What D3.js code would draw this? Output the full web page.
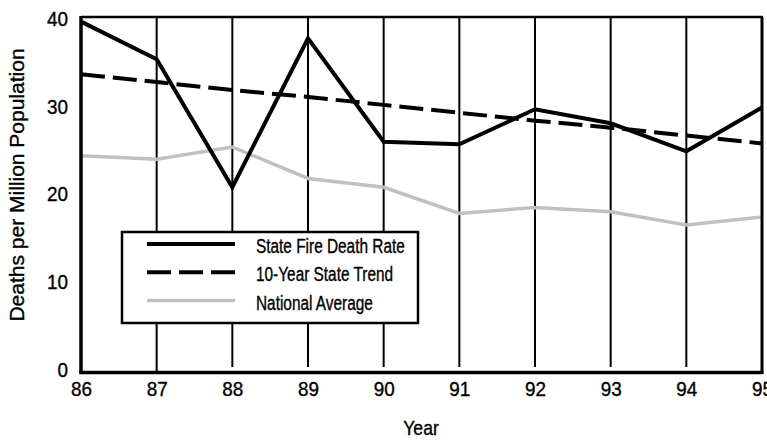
<!DOCTYPE html>
<html><head><meta charset="utf-8">
<script src="https://cdn.jsdelivr.net/npm/d3@7"></script>
<style>
html,body{margin:0;padding:0;background:#fff;}
text{font-family:"Liberation Sans",Arial,sans-serif;fill:#000;stroke:#000;stroke-width:0.35px;}
</style></head>
<body><svg id="c" width="767" height="442"></svg>
<script>
const years = ["86","87","88","89","90","91","92","93","94","95"];
const stateRate = [39.7,35.4,20.8,37.8,26.0,25.7,29.7,28.1,24.9,29.9];
const stateTrend = [33.7,32.8,31.9,31.1,30.2,29.3,28.4,27.6,26.7,25.8];
const nationalAvg = [24.4,24.0,25.4,21.8,20.8,17.8,18.5,18.0,16.5,17.4];
const yTicks = [0,10,20,30,40];
const legendLabels = ["State Fire Death Rate","10-Year State Trend","National Average"];

const svg = d3.select("#c");
const x = d3.scalePoint().domain(years).range([81,762]);
const y = d3.scaleLinear().domain([0,40]).range([369.5,19]);
const TOP = 17, BOT = 372.5;
const TX = 0.9; // horizontal condensing of tick labels

// vertical gridlines
svg.append("g").selectAll("line").data(years.slice(1,-1)).join("line")
  .attr("x1",d=>x(d)).attr("x2",d=>x(d))
  .attr("y1",TOP-1).attr("y2",(d,i)=> i===0 ? BOT : 367)
  .attr("stroke","#000").attr("stroke-width",2);

// lines
const line = d3.line().x((d,i)=>x(years[i])).y(d=>y(d));
svg.append("path").datum(nationalAvg).attr("d",line).attr("fill","none").attr("stroke","#c0c0c0").attr("stroke-width",3.5);
svg.append("path").datum(stateTrend).attr("d",line).attr("fill","none").attr("stroke","#000").attr("stroke-width",4).attr("stroke-dasharray","24,8");
svg.append("path").datum(stateRate).attr("d",line).attr("fill","none").attr("stroke","#000").attr("stroke-width",4).attr("stroke-linejoin","miter");

// frame
svg.append("line").attr("x1",81).attr("x2",763).attr("y1",TOP).attr("y2",TOP).attr("stroke","#000").attr("stroke-width",2.5);
svg.append("line").attr("x1",762).attr("x2",762).attr("y1",TOP).attr("y2",BOT).attr("stroke","#000").attr("stroke-width",3);
svg.append("line").attr("x1",81).attr("x2",81).attr("y1",TOP-1).attr("y2",BOT+1.5).attr("stroke","#000").attr("stroke-width",3.5);
svg.append("line").attr("x1",79.5).attr("x2",763.5).attr("y1",BOT).attr("y2",BOT).attr("stroke","#000").attr("stroke-width",3.5);

// axes
const yAxis = svg.append("g").attr("transform","translate(81,0)")
  .call(d3.axisLeft(y).tickValues(yTicks).tickSize(0).tickPadding(13).tickFormat(d3.format("d")));
yAxis.select(".domain").remove();
yAxis.selectAll("text").attr("font-size",21).attr("font-family",null)
  .attr("x",-13/TX).attr("transform",`scale(${TX},1)`);

const xAxis = svg.append("g").attr("transform",`translate(0,${BOT})`)
  .call(d3.axisBottom(x).tickSize(0).tickPadding(9));
xAxis.select(".domain").remove();
xAxis.selectAll("text").attr("font-size",21).attr("font-family",null).attr("transform",`scale(${TX},1)`);

// axis titles
svg.append("text").attr("transform","translate(421,435) scale(0.88,1)").attr("text-anchor","middle").attr("font-size",20).text("Year");
svg.append("text").attr("transform","translate(24,185) rotate(-90)").attr("text-anchor","middle").attr("font-size",21).text("Deaths per Million Population");

// legend
const lg = svg.append("g");
lg.append("rect").attr("x",122).attr("y",232).attr("width",296).attr("height",91)
  .attr("fill","#fff").attr("stroke","#000").attr("stroke-width",2.5);
const styles = [
  {stroke:"#000",dash:null,w:4},
  {stroke:"#000",dash:"24,8",w:4},
  {stroke:"#c0c0c0",dash:null,w:3.5}
];
const rowY = d3.scalePoint().domain(legendLabels).range([244,300.5]);
legendLabels.forEach((lab,i)=>{
  lg.append("line").attr("x1",147).attr("x2",235).attr("y1",rowY(lab)).attr("y2",rowY(lab))
    .attr("stroke",styles[i].stroke).attr("stroke-width",styles[i].w).attr("stroke-dasharray",styles[i].dash);
  lg.append("text").attr("transform",`translate(256,${rowY(lab)+2}) scale(0.77,1)`).attr("dy","0.35em").attr("font-size",20).text(lab);
});
</script></body></html>
